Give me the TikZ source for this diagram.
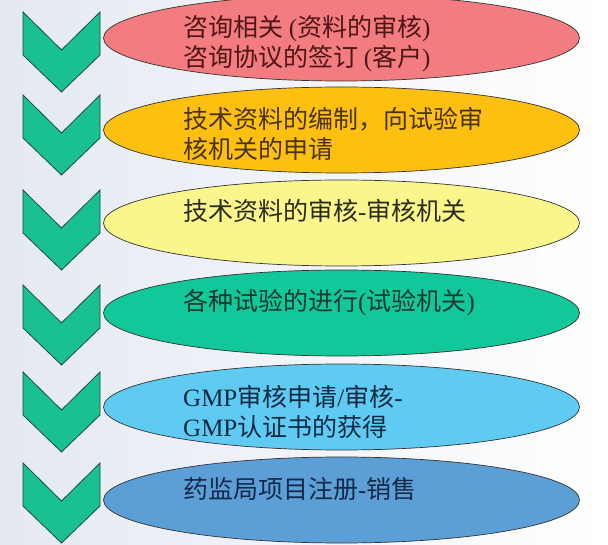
\documentclass[tikz,border=0pt]{standalone}
\usepackage{fontspec}
\newfontfamily\cjk{Noto Sans CJK SC}
\newfontfamily\latfont{Liberation Serif}
\newcommand{\asc}[1]{{\latfont #1}}
\usetikzlibrary{shapes.geometric}

\definecolor{bgleft}{HTML}{E4E9F2}
\definecolor{chevfill}{HTML}{19C090}
\definecolor{chevline}{HTML}{1E4A3E}
\definecolor{pinkfill}{HTML}{F27C80}
\definecolor{goldfill}{HTML}{FDC010}
\definecolor{lemonfill}{HTML}{FAF68C}
\definecolor{tealfill}{HTML}{12C79A}
\definecolor{skyfill}{HTML}{5FCBF2}
\definecolor{steelfill}{HTML}{5C9FD6}
\definecolor{pinktext}{HTML}{4E1616}
\definecolor{goldtext}{HTML}{4A3410}
\definecolor{lemontext}{HTML}{2C2C1C}
\definecolor{tealtext}{HTML}{173A30}
\definecolor{skytext}{HTML}{122A44}
\definecolor{steeltext}{HTML}{14294A}

\tikzstyle{stage} = [ellipse, minimum width=476pt, minimum height=86pt,
inner sep=0pt, draw=black!80, line width=0.7pt]
\tikzstyle{chev} = [fill=chevfill, draw=chevline, line width=0.8pt,
line join=miter]
\tikzstyle{caption} = [anchor=base west, align=left, inner sep=0pt,
font=\cjk\fontsize{25}{30}\selectfont]

\begin{document}
\begin{tikzpicture}[x=1pt,y=-1pt]
    \useasboundingbox (0,0) rectangle (608,545);
    \shade [left color=bgleft, right color=white] (0,0) rectangle (608,545);

    % chevrons down the left side
    \foreach \t in {12,95,190,285,372,463}
        \draw [chev] (23,\t) -- (61.5,\t+38) -- (100,\t) -- (100,\t+43)
            -- (61.5,\t+80) -- (23,\t+43) -- cycle;

    \node (ell1) [stage, fill=pinkfill]  at (341.5,38)  {};
    \node (ell2) [stage, fill=goldfill]  at (341.5,130) {};
    \node (ell3) [stage, fill=lemonfill] at (341.5,223) {};
    \node (ell4) [stage, fill=tealfill]  at (341.5,313) {};
    \node (ell5) [stage, fill=skyfill]   at (341.5,407) {};
    \node (ell6) [stage, fill=steelfill] at (341.5,500) {};

    % two-line captions sit on the baseline of their last line
    \node (txt1) [caption, text=pinktext] at (183,67)
        {咨询相关 \asc{(}资料的审核\asc{)}\\咨询协议的签订 \asc{(}客户\asc{)}};
    \node (txt2) [caption, text=goldtext] at (183,159)
        {技术资料的编制，向试验审\\核机关的申请};
    \node (txt3) [caption, text=lemontext] at (183,221)
        {技术资料的审核\asc{-}审核机关};
    \node (txt4) [caption, text=tealtext] at (183,311)
        {各种试验的进行\asc{(}试验机关\asc{)}};
    \node (txt5) [caption, text=skytext] at (183,436)
        {\asc{GMP}审核申请\asc{/}审核\asc{-}\\\asc{GMP}认证书的获得};
    \node (txt6) [caption, text=steeltext] at (183,498)
        {药监局项目注册\asc{-}销售};
\end{tikzpicture}
\end{document}
